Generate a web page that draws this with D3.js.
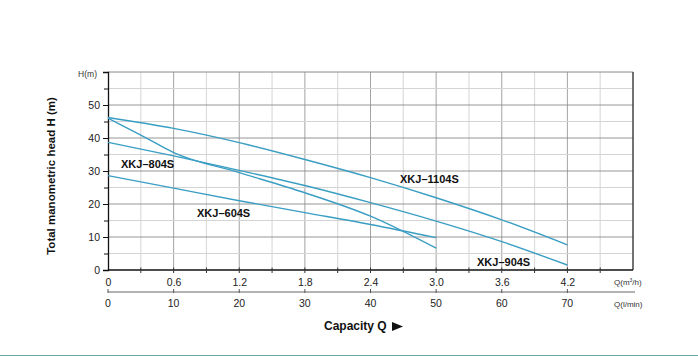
<!DOCTYPE html>
<html><head><meta charset="utf-8">
<script src="https://cdn.jsdelivr.net/npm/d3@7/dist/d3.min.js"></script>
<style>body{margin:0;background:#fff}svg{display:block;font-family:"Liberation Sans",Arial,sans-serif}</style>
</head><body><svg id="c" width="698" height="356"></svg>
<script>
const qTicks = [0, 0.6, 1.2, 1.8, 2.4, 3.0, 3.6, 4.2];
const qTickLabels = ["0", "0.6", "1.2", "1.8", "2.4", "3.0", "3.6", "4.2"];
const lminTickLabels = ["0", "10", "20", "30", "40", "50", "60", "70"];
const hTicks = [0, 10, 20, 30, 40, 50];
const q1104 = [0, 0.6, 1.2, 1.8, 2.4, 3.0, 3.6, 4.2];
const h1104 = [46.2, 42.9, 38.6, 33.5, 28.0, 21.9, 15.2, 7.6];
const q904 = [0, 0.6, 1.2, 1.8, 2.4, 3.0, 3.6, 4.2];
const h904 = [38.7, 34.6, 30.2, 25.6, 20.4, 14.8, 8.6, 1.5];
const q804 = [0, 0.3, 0.6, 1.2, 1.8, 2.4, 3.0];
const h804 = [46.0, 40.9, 35.6, 29.5, 23.4, 16.3, 6.6];
const q604 = [0, 0.6, 1.2, 1.8, 2.4, 3.0];
const h604 = [28.6, 24.8, 21.0, 17.4, 13.8, 9.8];
const seriesNames = ["XKJ–1104S", "XKJ–904S", "XKJ–804S", "XKJ–604S"];

const svg = d3.select("#c");
const x = d3.scaleLinear().domain([0, 4.8]).range([108, 633]);
const y = d3.scaleLinear().domain([0, 60]).range([270, 72]);
const g = svg.append("g");

// grid
const vMinor = d3.range(0.3, 4.8, 0.6);
const vMajor = d3.range(0.6, 4.8, 0.6);
g.selectAll(".vmin").data(vMinor).join("line")
  .attr("x1", d => x(d)).attr("x2", d => x(d)).attr("y1", y(60)).attr("y2", y(0))
  .attr("stroke", "#dcdcdc").attr("stroke-width", 1.2);
g.selectAll(".vmaj").data(vMajor).join("line")
  .attr("x1", d => x(d)).attr("x2", d => x(d)).attr("y1", y(60)).attr("y2", y(0))
  .attr("stroke", "#999").attr("stroke-width", 0.9);
const hMinor = d3.range(5, 60, 10);
const hMajor = d3.range(10, 60, 10);
g.selectAll(".hmin").data(hMinor).join("line")
  .attr("x1", x(0)).attr("x2", x(4.8)).attr("y1", d => y(d)).attr("y2", d => y(d))
  .attr("stroke", "#d4d4d4").attr("stroke-width", 1);
g.selectAll(".hmaj").data(hMajor).join("line")
  .attr("x1", x(0)).attr("x2", x(4.8)).attr("y1", d => y(d)).attr("y2", d => y(d))
  .attr("stroke", "#8a8a8a").attr("stroke-width", 0.9);
// frame
g.append("line").attr("x1", x(0)).attr("x2", x(4.8)).attr("y1", y(60)).attr("y2", y(60)).attr("stroke", "#888").attr("stroke-width", 1);
g.append("line").attr("x1", x(4.8)).attr("x2", x(4.8)).attr("y1", y(60)).attr("y2", y(0)).attr("stroke", "#333").attr("stroke-width", 1.2);

// y axis
const yAxis = d3.axisLeft(y).tickValues(hTicks).tickSize(5).tickFormat(d3.format("d"));
const ya = svg.append("g").attr("transform", `translate(${x(0)},0)`).call(yAxis);
ya.select(".domain").attr("stroke", "#111").attr("stroke-width", 1.3);
ya.selectAll(".tick line").attr("stroke", "#111");
ya.selectAll(".tick text").attr("font-size", 10.5).attr("fill", "#222").attr("font-family", "Liberation Sans, Arial").attr("x", -8);
const yMinorAxis = d3.axisLeft(y).tickValues(d3.range(5, 60, 10)).tickSize(4).tickFormat("");
const ym = svg.append("g").attr("transform", `translate(${x(0)},0)`).call(yMinorAxis);
ym.select(".domain").remove();
ym.selectAll(".tick line").attr("stroke", "#111");
const y60 = svg.append("g").attr("transform", `translate(${x(0)},0)`).call(d3.axisLeft(y).tickValues([60]).tickSize(5).tickFormat(""));
y60.select(".domain").remove();
y60.selectAll(".tick line").attr("stroke", "#111");

// x axis (m3/h)
const xAxis = d3.axisBottom(x).tickValues(qTicks).tickSize(0).tickFormat((d, i) => qTickLabels[i]);
const xa = svg.append("g").attr("transform", `translate(0,${y(0)})`).call(xAxis);
xa.select(".domain").attr("stroke", "#111").attr("stroke-width", 1.4).attr("d", `M${x(0)},0H${x(4.8)}`);
xa.selectAll(".tick text").attr("font-size", 10.5).attr("fill", "#222").attr("font-family", "Liberation Sans, Arial").attr("dy", "0").attr("y", 16);
xa.selectAll(".xt").data(d3.range(0.3, 4.8, 0.3)).join("line")
  .attr("x1", d => x(d)).attr("x2", d => x(d)).attr("y1", -2.5).attr("y2", 3).attr("stroke", "#333");

// second x axis (l/min)
const xb = svg.append("g").attr("transform", "translate(0,292)");
xb.append("line").attr("x1", x(0)).attr("x2", 635).attr("y1", 0).attr("y2", 0).attr("stroke", "#999").attr("stroke-width", 1.4);
xb.selectAll(".t").data(qTicks).join("line")
  .attr("x1", d => x(d)).attr("x2", d => x(d)).attr("y1", -3).attr("y2", 1).attr("stroke", "#555");
xb.selectAll(".l").data(qTicks).join("text")
  .attr("x", d => x(d)).attr("y", 15).attr("text-anchor", "middle")
  .attr("font-size", 10.5).attr("fill", "#222").text((d, i) => lminTickLabels[i]);

// unit labels
svg.append("text").attr("x", 614).attr("y", 285).attr("font-size", 8).attr("fill", "#333")
  .html('Q(m<tspan baseline-shift="super" font-size="5">3</tspan>/h)');
svg.append("text").attr("x", 614).attr("y", 307).attr("font-size", 8).attr("fill", "#333").text("Q(l/min)");
svg.append("text").attr("x", 97).attr("y", 77).attr("text-anchor", "end").attr("font-size", 8.5).attr("fill", "#333").text("H(m)");

// titles
svg.append("text").attr("x", 324).attr("y", 330).attr("font-size", 12).attr("font-weight", "bold").attr("fill", "#111").text("Capacity Q");
svg.append("path").attr("d", "M392,322 L403,326.5 L392,331 Z").attr("fill", "#111");
svg.append("text").attr("transform", "translate(55,176) rotate(-90)").attr("text-anchor", "middle")
  .attr("font-size", 11.5).attr("font-weight", "bold").attr("fill", "#111").text("Total manometric head H (m)");

// curves
const line = d3.line().x(d => x(d[0])).y(d => y(d[1])).curve(d3.curveMonotoneX);
const curves = [[q1104, h1104], [q904, h904], [q804, h804], [q604, h604]];
svg.append("g").selectAll("path").data(curves).join("path")
  .attr("d", c => line(c[0].map((q, i) => [q, c[1][i]])))
  .attr("fill", "none").attr("stroke", "#3a9ec3").attr("stroke-width", 1.4);

// labels
const labelPos = [[400, 183], [477, 266], [121, 168], [197, 217]];
svg.append("g").selectAll("text").data(seriesNames).join("text")
  .attr("x", (d, i) => labelPos[i][0]).attr("y", (d, i) => labelPos[i][1])
  .attr("font-size", 11).attr("font-weight", "bold").attr("fill", "#111").text(d => d);

// bottom border line
svg.append("line").attr("x1", 0).attr("x2", 698).attr("y1", 355.5).attr("y2", 355.5).attr("stroke", "#6aa9a8").attr("stroke-width", 1.2);
</script></body></html>
